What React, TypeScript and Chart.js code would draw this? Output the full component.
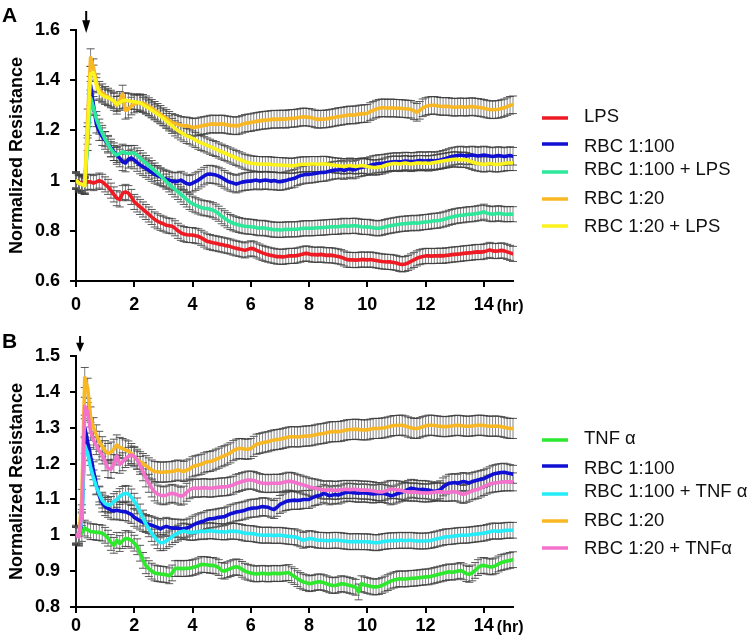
import React, { useEffect, useRef } from "react";
import { Chart, registerables } from "chart.js";

Chart.register(...registerables);

// sampling grid: one reading every 0.1 hr from 0 to 15 hr
const HOURS: number[] = Array.from({ length: 151 }, (_, i) => i / 10);
const X_TICKS = [0, 2, 4, 6, 8, 10, 12, 14];
const X_UNIT = "(hr)";

// ---------- Panel A ----------
const Y_TICKS_A = [0.6, 0.8, 1.0, 1.2, 1.4, 1.6];
const Y_TICK_LABELS_A = ["0.6", "0.8", "1", "1.2", "1.4", "1.6"];
const LABELS_A = ["LPS", "RBC 1:100", "RBC 1:100 + LPS", "RBC 1:20", "RBC 1:20 + LPS"];
const COLORS_A = ["#ee1b24", "#1010d4", "#2de89a", "#f9b823", "#fcf21c"];
const ERR_A = [0.03, 0.035, 0.03, 0.035, 0.03];
const ARROW_A = 0.35;

const LPS_A = [
  1.0, 0.995, 0.99, 0.99, 0.995, 0.995, 0.99, 0.995, 1.0, 0.995,
  0.985, 0.975, 0.96, 0.945, 0.93, 0.925, 0.95, 0.955, 0.95, 0.935,
  0.915, 0.905, 0.895, 0.885, 0.875, 0.865, 0.855, 0.845, 0.838, 0.832,
  0.828, 0.822, 0.82, 0.818, 0.81, 0.8, 0.792, 0.787, 0.784, 0.783,
  0.783, 0.78, 0.778, 0.772, 0.765, 0.758, 0.755, 0.752, 0.75, 0.747,
  0.745, 0.742, 0.74, 0.737, 0.733, 0.73, 0.728, 0.725, 0.722, 0.726,
  0.73, 0.728, 0.722, 0.717, 0.712, 0.708, 0.705, 0.702, 0.7, 0.697,
  0.697, 0.696, 0.698, 0.7, 0.7, 0.7, 0.702, 0.705, 0.708, 0.71,
  0.708, 0.705, 0.705, 0.704, 0.706, 0.704, 0.702, 0.703, 0.702, 0.7,
  0.698, 0.695, 0.69, 0.685, 0.684, 0.684, 0.683, 0.684, 0.686, 0.685,
  0.684, 0.686, 0.684, 0.682, 0.68, 0.678, 0.677, 0.676, 0.676, 0.674,
  0.672, 0.668, 0.666, 0.668, 0.672, 0.678, 0.684, 0.69, 0.695, 0.698,
  0.7, 0.7, 0.699, 0.7, 0.7, 0.701, 0.7, 0.702, 0.703, 0.705,
  0.706, 0.707, 0.708, 0.71, 0.711, 0.712, 0.713, 0.715, 0.716, 0.715,
  0.717, 0.72, 0.724, 0.72, 0.719, 0.72, 0.722, 0.72, 0.716, 0.712,
  0.708,
];
const RBC100_A = [
  1.0, 0.99, 0.985, 0.98, 1.18, 1.38, 1.3, 1.225, 1.195, 1.175,
  1.16, 1.145, 1.13, 1.115, 1.1, 1.09, 1.075, 1.07, 1.085, 1.09,
  1.082, 1.072, 1.062, 1.055, 1.048, 1.04, 1.032, 1.025, 1.02, 1.015,
  1.01, 1.006, 1.002, 0.998, 0.996, 0.998, 1.002, 0.995, 0.988, 0.985,
  0.99, 0.996, 1.002, 1.01, 1.018, 1.025, 1.026, 1.024, 1.022, 1.018,
  1.012, 1.005, 0.998, 0.993, 0.99, 0.986, 0.99, 0.994, 0.996, 0.998,
  0.998, 1.0, 1.002, 0.998, 1.0, 1.002, 1.0, 0.998, 1.0, 0.997,
  0.996, 0.998, 1.0, 1.004, 1.006, 1.009, 1.015, 1.02, 1.022, 1.025,
  1.025, 1.026, 1.028, 1.03, 1.032, 1.032, 1.034, 1.037, 1.04, 1.042,
  1.042, 1.045, 1.04, 1.044, 1.048, 1.042, 1.045, 1.05, 1.052, 1.055,
  1.056, 1.06, 1.064, 1.066, 1.068, 1.068, 1.07, 1.072, 1.074, 1.075,
  1.076, 1.075, 1.076, 1.078, 1.077, 1.076, 1.076, 1.078, 1.08, 1.079,
  1.078, 1.08, 1.08, 1.078, 1.08, 1.082, 1.085, 1.088, 1.092, 1.096,
  1.098, 1.1, 1.102, 1.1, 1.098, 1.1, 1.102, 1.1, 1.098, 1.1,
  1.102, 1.1, 1.098, 1.096, 1.098, 1.1, 1.098, 1.096, 1.098, 1.1,
  1.097,
];
const RBC100_LPS_A = [
  1.0, 0.99, 0.985, 0.98, 1.15, 1.33, 1.29, 1.245, 1.215, 1.19,
  1.165, 1.145, 1.125, 1.11, 1.102, 1.108, 1.115, 1.11, 1.108, 1.11,
  1.11, 1.1, 1.09, 1.08, 1.07, 1.06, 1.05, 1.04, 1.03, 1.02,
  1.008, 0.996, 0.985, 0.975, 0.965, 0.955, 0.945, 0.935, 0.925, 0.915,
  0.908, 0.902, 0.897, 0.893, 0.89, 0.889, 0.886, 0.882, 0.876, 0.868,
  0.858, 0.85, 0.842, 0.835, 0.83, 0.826, 0.823, 0.82, 0.818, 0.817,
  0.816, 0.815, 0.812, 0.81, 0.812, 0.81, 0.808, 0.806, 0.804, 0.805,
  0.803, 0.804, 0.806, 0.805, 0.806, 0.806, 0.806, 0.808, 0.81, 0.81,
  0.81, 0.81, 0.811, 0.812, 0.812, 0.813, 0.814, 0.815, 0.816, 0.816,
  0.816, 0.818, 0.82, 0.818, 0.819, 0.82, 0.82, 0.818, 0.816, 0.815,
  0.816, 0.814, 0.812, 0.81, 0.81, 0.812, 0.815, 0.818, 0.82, 0.822,
  0.824, 0.826, 0.828, 0.828, 0.83, 0.83, 0.832, 0.83, 0.832, 0.834,
  0.835, 0.836, 0.838, 0.84, 0.84, 0.842, 0.845, 0.848, 0.852, 0.855,
  0.858, 0.86, 0.862, 0.862, 0.865, 0.866, 0.866, 0.868, 0.87, 0.872,
  0.876, 0.87, 0.868, 0.866, 0.868, 0.87, 0.868, 0.866, 0.866, 0.867,
  0.866,
];
const RBC20_A = [
  1.0, 0.99, 0.985, 0.98, 1.25, 1.49, 1.45, 1.39, 1.36, 1.35,
  1.34, 1.333, 1.325, 1.315, 1.3, 1.32, 1.345, 1.28, 1.285, 1.297,
  1.305, 1.31, 1.31, 1.308, 1.302, 1.295, 1.288, 1.28, 1.272, 1.264,
  1.255, 1.248, 1.24, 1.232, 1.228, 1.224, 1.22, 1.218, 1.218, 1.216,
  1.212, 1.213, 1.215, 1.218, 1.22, 1.222, 1.225, 1.226, 1.224, 1.225,
  1.226, 1.224, 1.222, 1.22, 1.219, 1.218, 1.22, 1.224, 1.228, 1.23,
  1.231, 1.234, 1.236, 1.238, 1.24, 1.241, 1.242, 1.244, 1.245, 1.244,
  1.245, 1.246, 1.244, 1.247, 1.248, 1.248, 1.25, 1.252, 1.254, 1.253,
  1.252, 1.25, 1.246, 1.244, 1.245, 1.245, 1.246, 1.248, 1.25, 1.252,
  1.255, 1.256, 1.258, 1.26, 1.262, 1.261, 1.262, 1.265, 1.266, 1.267,
  1.268, 1.275, 1.28, 1.285, 1.288, 1.29, 1.29, 1.288, 1.29, 1.289,
  1.288, 1.288, 1.287, 1.286, 1.285, 1.284, 1.278, 1.272, 1.28, 1.29,
  1.295, 1.298, 1.3, 1.3, 1.298, 1.296, 1.295, 1.296, 1.295, 1.293,
  1.292, 1.293, 1.294, 1.293, 1.292, 1.294, 1.295, 1.293, 1.292, 1.29,
  1.288, 1.285, 1.283, 1.282, 1.283, 1.284, 1.287, 1.29, 1.295, 1.3,
  1.302,
];
const RBC20_LPS_A = [
  1.0, 0.99, 0.985, 0.98, 1.2, 1.425, 1.43, 1.38, 1.35, 1.34,
  1.334, 1.33, 1.324, 1.318, 1.305, 1.31, 1.318, 1.32, 1.318, 1.315,
  1.314, 1.312, 1.31, 1.302, 1.295, 1.288, 1.28, 1.272, 1.264, 1.256,
  1.248, 1.238, 1.228, 1.218, 1.208, 1.2, 1.192, 1.185, 1.178, 1.175,
  1.168, 1.162, 1.155, 1.15, 1.145, 1.14, 1.135, 1.13, 1.126, 1.12,
  1.115, 1.11, 1.105, 1.1, 1.095, 1.09, 1.085, 1.08, 1.075, 1.072,
  1.069, 1.068, 1.066, 1.066, 1.065, 1.065, 1.066, 1.064, 1.063, 1.062,
  1.062, 1.061, 1.06, 1.06, 1.058, 1.06, 1.062, 1.064, 1.065, 1.065,
  1.065, 1.066, 1.066, 1.065, 1.066, 1.067, 1.066, 1.064, 1.062, 1.06,
  1.06, 1.058, 1.056, 1.058, 1.06, 1.058, 1.056, 1.058, 1.06, 1.058,
  1.056, 1.054, 1.052, 1.052, 1.054, 1.056, 1.06, 1.064, 1.066, 1.068,
  1.068, 1.066, 1.068, 1.07, 1.068, 1.066, 1.068, 1.07, 1.07, 1.069,
  1.07, 1.068, 1.07, 1.072, 1.074, 1.076, 1.078, 1.08, 1.082, 1.084,
  1.085, 1.084, 1.082, 1.084, 1.082, 1.078, 1.074, 1.07, 1.068, 1.066,
  1.064, 1.066, 1.068, 1.066, 1.064, 1.065, 1.066, 1.068, 1.07, 1.07,
  1.07,
];

// ---------- Panel B ----------
const Y_TICKS_B = [0.8, 0.9, 1.0, 1.1, 1.2, 1.3, 1.4, 1.5];
const Y_TICK_LABELS_B = ["0.8", "0.9", "1", "1.1", "1.2", "1.3", "1.4", "1.5"];
const LABELS_B = ["TNF α", "RBC 1:100", "RBC 1:100 + TNF α", "RBC 1:20", "RBC 1:20 + TNFα"];
const COLORS_B = ["#2ee82e", "#1010d4", "#24ecf8", "#f9b823", "#f472cc"];
const ERR_B = [0.022, 0.025, 0.022, 0.028, 0.025];
const ARROW_B = 0.14;

const TNF_B = [
  1.0, 1.0, 1.005, 1.02, 1.015, 1.01, 1.01, 1.008, 1.008, 1.006,
  1.0, 0.992, 0.98, 0.972, 0.986, 0.977, 0.985, 0.991, 0.99, 0.986,
  0.978, 0.968, 0.95, 0.93, 0.915, 0.907, 0.9, 0.895, 0.893, 0.892,
  0.891, 0.89, 0.887, 0.895, 0.907, 0.908, 0.907, 0.907, 0.908, 0.908,
  0.91, 0.912, 0.915, 0.919, 0.918, 0.918, 0.916, 0.916, 0.914, 0.91,
  0.902, 0.9, 0.904, 0.907, 0.91, 0.912, 0.91, 0.905, 0.9, 0.897,
  0.895, 0.893, 0.892, 0.893, 0.894, 0.893, 0.892, 0.893, 0.894, 0.893,
  0.893, 0.894, 0.895, 0.896, 0.89, 0.885, 0.879, 0.874, 0.87, 0.868,
  0.865, 0.866, 0.868, 0.87, 0.87, 0.868, 0.865, 0.862, 0.86, 0.86,
  0.862, 0.865, 0.864, 0.862, 0.86, 0.858, 0.855, 0.842, 0.865, 0.862,
  0.86, 0.858, 0.856, 0.856, 0.857, 0.86, 0.864, 0.868, 0.872, 0.875,
  0.877, 0.879, 0.878, 0.878, 0.879, 0.88, 0.88, 0.881, 0.882, 0.883,
  0.884, 0.884, 0.886, 0.888, 0.89, 0.892, 0.894, 0.896, 0.898, 0.897,
  0.898, 0.9, 0.902, 0.898, 0.893, 0.891, 0.895, 0.902, 0.91, 0.915,
  0.916, 0.914, 0.912, 0.912, 0.915, 0.92, 0.924, 0.926, 0.928, 0.93,
  0.932,
];
const RBC100_B = [
  1.0, 1.0, 1.04, 1.3, 1.26, 1.22, 1.18, 1.14, 1.11, 1.09,
  1.08, 1.075, 1.07, 1.068, 1.07, 1.068, 1.066, 1.066, 1.062, 1.058,
  1.05, 1.045, 1.04, 1.036, 1.033, 1.03, 1.028, 1.025, 1.022, 1.018,
  1.022, 1.025, 1.022, 1.02, 1.02, 1.02, 1.018, 1.018, 1.02, 1.023,
  1.028, 1.032, 1.035, 1.038, 1.04, 1.044, 1.046, 1.046, 1.048, 1.05,
  1.051, 1.052, 1.056, 1.06, 1.062, 1.065, 1.066, 1.068, 1.07, 1.073,
  1.075, 1.076, 1.076, 1.078, 1.08, 1.079, 1.078, 1.074, 1.072, 1.078,
  1.086, 1.09, 1.094, 1.096, 1.097, 1.098, 1.097, 1.098, 1.1, 1.1,
  1.1, 1.104, 1.108, 1.11, 1.112, 1.117, 1.114, 1.11, 1.112, 1.114,
  1.112, 1.115, 1.118, 1.12, 1.12, 1.119, 1.118, 1.117, 1.118, 1.118,
  1.117, 1.116, 1.115, 1.116, 1.117, 1.117, 1.116, 1.114, 1.11, 1.112,
  1.115, 1.118, 1.12, 1.124, 1.128, 1.131, 1.13, 1.128, 1.127, 1.128,
  1.127, 1.126, 1.124, 1.122, 1.124, 1.127, 1.135, 1.14, 1.145, 1.146,
  1.147, 1.145, 1.148, 1.15, 1.148, 1.146, 1.15, 1.152, 1.154, 1.156,
  1.158, 1.162, 1.166, 1.17, 1.172, 1.174, 1.175, 1.176, 1.174, 1.172,
  1.17,
];
const RBC100_TNF_B = [
  1.0, 1.0, 1.04, 1.25, 1.23, 1.19, 1.16, 1.135, 1.115, 1.098,
  1.088, 1.084, 1.086, 1.094, 1.1, 1.108, 1.114, 1.117, 1.115, 1.107,
  1.095, 1.082, 1.065, 1.048, 1.032, 1.018, 1.005, 0.995, 0.985, 0.979,
  0.98, 0.985, 0.99, 0.996, 1.002, 1.006, 1.01, 1.012, 1.01, 1.008,
  1.008, 1.009, 1.01, 1.012, 1.01, 1.012, 1.013, 1.012, 1.011, 1.01,
  1.01, 1.009, 1.01, 1.012, 1.011, 1.011, 1.01, 1.008, 1.006, 1.005,
  1.005, 1.004, 1.002, 1.001, 1.0, 1.0, 1.001, 1.0, 0.999, 1.0,
  1.0, 0.999, 0.998, 0.997, 0.996, 0.996, 0.993, 0.99, 0.986, 0.988,
  0.991, 0.99, 0.988, 0.986, 0.986, 0.986, 0.985, 0.985, 0.986, 0.986,
  0.986, 0.985, 0.984, 0.983, 0.982, 0.982, 0.983, 0.982, 0.982, 0.982,
  0.982, 0.981, 0.98, 0.979, 0.98, 0.982, 0.983, 0.984, 0.985, 0.985,
  0.985, 0.986, 0.986, 0.985, 0.986, 0.986, 0.985, 0.984, 0.984, 0.984,
  0.984, 0.985, 0.986, 0.988, 0.99, 0.992, 0.994, 0.996, 0.996, 0.997,
  0.998, 0.999, 1.0, 1.0, 1.0, 1.001, 1.002, 1.003, 1.004, 1.005,
  1.006, 1.008, 1.01, 1.012, 1.012, 1.011, 1.012, 1.013, 1.014, 1.014,
  1.014,
];
const RBC20_B = [
  1.0, 1.0, 1.1, 1.44, 1.41, 1.33, 1.3, 1.28, 1.262, 1.247,
  1.236, 1.228, 1.232, 1.24, 1.252, 1.245, 1.242, 1.238, 1.235, 1.228,
  1.219, 1.212, 1.205, 1.2, 1.194, 1.188, 1.182, 1.178, 1.177, 1.176,
  1.176, 1.177, 1.177, 1.178, 1.18, 1.182, 1.18, 1.178, 1.182, 1.185,
  1.191, 1.194, 1.196, 1.198, 1.202, 1.205, 1.206, 1.208, 1.212, 1.215,
  1.219, 1.222, 1.226, 1.23, 1.236, 1.24, 1.242, 1.242, 1.24, 1.24,
  1.242, 1.248, 1.254, 1.256, 1.258, 1.26, 1.261, 1.264, 1.266, 1.267,
  1.268, 1.27, 1.272, 1.274, 1.275, 1.275, 1.274, 1.275, 1.276, 1.277,
  1.277, 1.278, 1.28, 1.282, 1.283, 1.284, 1.286, 1.288, 1.289, 1.289,
  1.289, 1.29, 1.292, 1.294, 1.295, 1.295, 1.296, 1.295, 1.294, 1.294,
  1.294, 1.296, 1.298, 1.298, 1.298, 1.299, 1.3, 1.302, 1.304, 1.306,
  1.306, 1.307, 1.307, 1.305, 1.302, 1.3, 1.298, 1.298, 1.3, 1.303,
  1.305, 1.307, 1.307, 1.306, 1.305, 1.304, 1.303, 1.303, 1.304, 1.305,
  1.306, 1.307, 1.306, 1.305, 1.304, 1.304, 1.305, 1.306, 1.307, 1.307,
  1.306, 1.305, 1.304, 1.304, 1.305, 1.304, 1.303, 1.301, 1.299, 1.298,
  1.298,
];
const RBC20_TNF_B = [
  1.0, 0.995, 1.06, 1.36, 1.345, 1.29, 1.265, 1.25, 1.235, 1.224,
  1.205, 1.186, 1.184, 1.2, 1.221, 1.198, 1.205, 1.214, 1.22, 1.224,
  1.22, 1.21, 1.195, 1.177, 1.16, 1.145, 1.132, 1.121, 1.115, 1.112,
  1.11, 1.112, 1.115, 1.117, 1.115, 1.112, 1.109, 1.112, 1.12, 1.127,
  1.131, 1.132, 1.131, 1.132, 1.133, 1.132, 1.131, 1.132, 1.133, 1.134,
  1.135, 1.135, 1.136, 1.138, 1.14, 1.145, 1.147, 1.15, 1.152, 1.154,
  1.154, 1.153, 1.15, 1.147, 1.145, 1.145, 1.144, 1.145, 1.145, 1.145,
  1.145, 1.147, 1.149, 1.151, 1.15, 1.148, 1.145, 1.143, 1.14, 1.138,
  1.135, 1.133, 1.132, 1.13, 1.128, 1.126, 1.126, 1.127, 1.126, 1.125,
  1.126, 1.127, 1.128, 1.128, 1.127, 1.128, 1.128, 1.127, 1.126, 1.126,
  1.126, 1.125, 1.124, 1.122, 1.121, 1.121, 1.123, 1.126, 1.128, 1.128,
  1.127, 1.126, 1.124, 1.122, 1.121, 1.12, 1.121, 1.12, 1.119, 1.118,
  1.118, 1.118, 1.119, 1.12, 1.121, 1.121, 1.12, 1.12, 1.12, 1.121,
  1.121, 1.12, 1.116, 1.114, 1.117, 1.12, 1.124, 1.126, 1.128, 1.132,
  1.136, 1.14, 1.143, 1.145, 1.146, 1.147, 1.148, 1.149, 1.149, 1.149,
  1.149,
];

// ---------- styling / layout ----------
const FONT = "Arial, 'Liberation Sans', Helvetica, sans-serif";
const W = 748;
const H = 322;
const LEGEND_LINE_ROWS = [118, 144, 172, 199, 226];
const LEGEND_TEXT_ROWS = [117, 147, 170, 199, 227];

type Panel = {
  letter: string;
  labels: string[];
  colors: string[];
  series: number[][];
  errors: number[];
  yMin: number;
  yMax: number;
  yTicks: number[];
  yTickLabels: string[];
  arrowAt: number;
  padTop: number;
  xAxisH: number;
  xTickPad: number;
  arrowTop: number;
  arrowTip: number;
  letterBaseline: number;
};

const PANEL_A: Panel = {
  letter: "A",
  labels: LABELS_A,
  colors: COLORS_A,
  series: [LPS_A, RBC100_A, RBC100_LPS_A, RBC20_A, RBC20_LPS_A],
  errors: ERR_A,
  yMin: 0.6,
  yMax: 1.6,
  yTicks: Y_TICKS_A,
  yTickLabels: Y_TICK_LABELS_A,
  arrowAt: ARROW_A,
  padTop: 30,
  xAxisH: 41,
  xTickPad: 7,
  arrowTop: 11,
  arrowTip: 33,
  letterBaseline: 22,
};

const PANEL_B: Panel = {
  letter: "B",
  labels: LABELS_B,
  colors: COLORS_B,
  series: [TNF_B, RBC100_B, RBC100_TNF_B, RBC20_B, RBC20_TNF_B],
  errors: ERR_B,
  yMin: 0.8,
  yMax: 1.5,
  yTicks: Y_TICKS_B,
  yTickLabels: Y_TICK_LABELS_B,
  arrowAt: ARROW_B,
  padTop: 34,
  xAxisH: 37,
  xTickPad: 2,
  arrowTop: 14,
  arrowTip: 30,
  letterBaseline: 26,
};

function buildConfig(p: Panel): any {
  const datasets = p.series.map((vals, i) => ({
    label: p.labels[i],
    data: HOURS.map((h, j) => ({ x: h, y: vals[j] })),
    borderColor: p.colors[i],
    backgroundColor: p.colors[i],
    borderWidth: 3.6,
    borderJoinStyle: "round",
    borderCapStyle: "round",
    pointRadius: 0,
    tension: 0,
    fill: false,
    order: p.series.length - i,
    errorBar: p.errors[i],
  }));

  const errorBars = {
    id: "errorBars",
    beforeDatasetsDraw(chart: any) {
      const { ctx } = chart;
      const xs = chart.scales.x;
      const ys = chart.scales.y;
      ctx.save();
      chart.data.datasets.forEach((ds: any) => {
        const e = ds.errorBar;
        ds.data.forEach((pt: any) => {
          const px = xs.getPixelForValue(pt.x);
          const top = ys.getPixelForValue(pt.y + e);
          const bot = ys.getPixelForValue(pt.y - e);
          ctx.lineWidth = 1;
          ctx.strokeStyle = "rgba(110,110,110,0.85)";
          ctx.beginPath();
          ctx.moveTo(px, top);
          ctx.lineTo(px, bot);
          ctx.stroke();
          ctx.strokeStyle = "rgba(60,60,60,0.85)";
          ctx.beginPath();
          ctx.moveTo(px - 4, top);
          ctx.lineTo(px + 4, top);
          ctx.moveTo(px - 4, bot);
          ctx.lineTo(px + 4, bot);
          ctx.stroke();
        });
      });
      ctx.restore();
    },
  };

  const decorations = {
    id: "decorations",
    afterDraw(chart: any) {
      const { ctx, chartArea } = chart;
      const xs = chart.scales.x;
      ctx.save();
      // panel letter
      ctx.fillStyle = "#000";
      ctx.font = `bold 21px ${FONT}`;
      ctx.textAlign = "left";
      ctx.textBaseline = "alphabetic";
      ctx.fillText(p.letter, 2, p.letterBaseline);
      // treatment arrow
      const ax = xs.getPixelForValue(p.arrowAt);
      const headTop = p.arrowTop + (p.arrowTip - p.arrowTop) * 0.42;
      ctx.strokeStyle = "#000";
      ctx.lineWidth = 2;
      ctx.beginPath();
      ctx.moveTo(ax, p.arrowTop);
      ctx.lineTo(ax, headTop + 1);
      ctx.stroke();
      ctx.beginPath();
      ctx.moveTo(ax - 4, headTop);
      ctx.lineTo(ax + 4, headTop);
      ctx.lineTo(ax, p.arrowTip);
      ctx.closePath();
      ctx.fill();
      // unit label after last tick
      const lastTick = X_TICKS[X_TICKS.length - 1];
      const ux = xs.getPixelForValue(lastTick) + 13;
      const baseline = chartArea.bottom + 6 + p.xTickPad + 10.8 + 6.5;
      ctx.font = `bold 16px ${FONT}`;
      ctx.fillText(X_UNIT, ux, baseline);
      // legend
      ctx.font = `18.5px ${FONT}`;
      ctx.textBaseline = "middle";
      p.labels.forEach((lab, i) => {
        const ly = LEGEND_LINE_ROWS[i];
        ctx.strokeStyle = p.colors[i];
        ctx.lineWidth = 3.5;
        ctx.beginPath();
        ctx.moveTo(542, ly);
        ctx.lineTo(568, ly);
        ctx.stroke();
        ctx.fillStyle = "#111";
        ctx.fillText(lab, 584, LEGEND_TEXT_ROWS[i]);
      });
      ctx.restore();
    },
  };

  const tickFont = { family: FONT, size: 18, weight: "bold" as const };

  return {
    type: "line",
    data: { datasets },
    options: {
      animation: false,
      responsive: false,
      devicePixelRatio: 1,
      events: [],
      layout: { padding: { left: 0, right: W - 513, top: p.padTop, bottom: 0 } },
      plugins: { legend: { display: false }, tooltip: { enabled: false }, title: { display: false } },
      scales: {
        x: {
          type: "linear",
          min: 0,
          max: 15,
          afterBuildTicks: (s: any) => {
            s.ticks = X_TICKS.map((v) => ({ value: v }));
          },
          afterFit: (s: any) => {
            s.height = p.xAxisH;
          },
          ticks: {
            font: tickFont,
            color: "#000",
            padding: p.xTickPad,
            maxRotation: 0,
            autoSkip: false,
            callback: (v: any) => String(v),
          },
          grid: { drawOnChartArea: false, drawTicks: true, tickLength: 6, color: "#000", lineWidth: 2 },
          border: { display: true, color: "#000", width: 2 },
        },
        y: {
          type: "linear",
          min: p.yMin,
          max: p.yMax,
          afterBuildTicks: (s: any) => {
            s.ticks = p.yTicks.map((v) => ({ value: v }));
          },
          afterFit: (s: any) => {
            s.width = 76;
          },
          ticks: {
            font: tickFont,
            color: "#000",
            padding: 10,
            callback: (_v: any, i: number) => p.yTickLabels[i],
          },
          title: {
            display: true,
            text: "Normalized Resistance",
            color: "#000",
            font: { family: FONT, size: 18, weight: "bold" },
            padding: { top: 6, bottom: 0 },
          },
          grid: { drawOnChartArea: false, drawTicks: true, tickLength: 6, color: "#000", lineWidth: 2 },
          border: { display: true, color: "#000", width: 2 },
        },
      },
    },
    plugins: [errorBars, decorations],
  };
}

function PanelChart({ panel, top }: { panel: Panel; top: number }) {
  const ref = useRef<HTMLCanvasElement | null>(null);
  useEffect(() => {
    if (!ref.current) return;
    const chart = new Chart(ref.current, buildConfig(panel));
    return () => chart.destroy();
  }, [panel]);
  return (
    <canvas
      ref={ref}
      width={W}
      height={H}
      style={{ position: "absolute", left: 0, top, width: W, height: H, display: "block" }}
    />
  );
}

export default function App() {
  return (
    <div style={{ position: "absolute", left: 0, top: 0, width: W, height: 2 * H, background: "#fff" }}>
      <PanelChart panel={PANEL_A} top={0} />
      <PanelChart panel={PANEL_B} top={H} />
    </div>
  );
}
